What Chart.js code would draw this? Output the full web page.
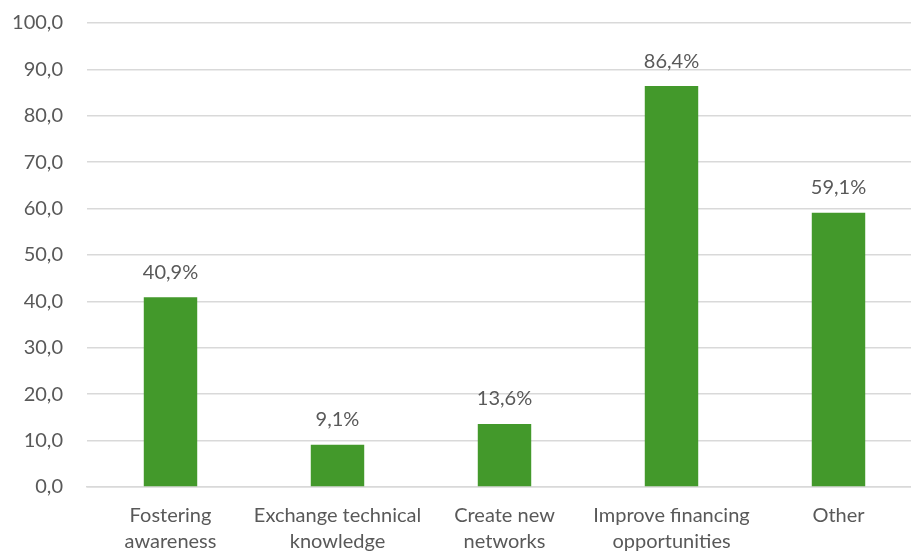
<!DOCTYPE html>
<html>
<head>
<meta charset="utf-8">
<script src="https://cdn.jsdelivr.net/npm/chart.js@4/dist/chart.umd.min.js"></script>
<style>
    html, body { margin: 0; padding: 0; background: #fff; overflow: hidden; }
    #wrap { width: 922px; height: 551px; }
</style>
</head>
<body>
<div id="wrap"><canvas id="benefitsChart"></canvas></div>
<script>
const categories = [
    ['Fostering', 'awareness'],
    ['Exchange technical', 'knowledge'],
    ['Create new', 'networks'],
    ['Improve financing', 'opportunities'],
    'Other'
];
const shares = [40.9, 9.1, 13.6, 86.4, 59.1];
const yTicks = [0, 10, 20, 30, 40, 50, 60, 70, 80, 90, 100];

const TEXT = '#595959';
const FONT = 'Lato, "Open Sans", sans-serif';

const fmt = (v, d) => v.toFixed(d).replace('.', ',');

// value labels above each bar
const barLabels = {
    id: 'barLabels',
    afterDatasetsDraw(chart) {
        const ctx = chart.ctx;
        const meta = chart.getDatasetMeta(0);
        ctx.save();
        ctx.font = '20px ' + FONT;
        ctx.fillStyle = TEXT;
        ctx.textAlign = 'center';
        ctx.textBaseline = 'middle';
        meta.data.forEach((bar, i) => {
            ctx.fillText(fmt(shares[i], 1) + '%', bar.x, bar.y - 25);
        });
        ctx.restore();
    }
};

const ctx = document.getElementById('benefitsChart').getContext('2d');
new Chart(ctx, {
    type: 'bar',
    data: {
        labels: categories,
        datasets: [{
            data: shares,
            backgroundColor: '#43992b',
            borderWidth: 0,
            barPercentage: 0.32,
            categoryPercentage: 1
        }]
    },
    options: {
        responsive: true,
        maintainAspectRatio: false,
        animation: false,
        layout: { padding: { top: 23, right: 0, left: 0, bottom: 0 } },
        plugins: {
            legend: { display: false },
            tooltip: { enabled: false }
        },
        scales: {
            x: {
                grid: { display: false },
                border: { color: '#d9d9d9', width: 1.5 },
                ticks: {
                    color: TEXT,
                    font: { family: FONT, size: 20, lineHeight: 1.3 },
                    padding: 8,
                    maxRotation: 0,
                    autoSkip: false
                },
                afterFit: axis => { axis.height = 64; }
            },
            y: {
                min: 0,
                max: 100,
                afterBuildTicks: axis => { axis.ticks = yTicks.map(v => ({value: v})); },
                grid: { color: '#d9d9d9', lineWidth: 1.5, drawTicks: false },
                border: { display: false },
                ticks: {
                    color: TEXT,
                    font: { family: FONT, size: 20 },
                    padding: 24,
                    callback: v => fmt(v, 1)
                },
                afterFit: axis => {
                    axis.width = 87;
                    axis.paddingTop = 0;
                    axis.paddingBottom = 0;
                }
            }
        }
    },
    plugins: [barLabels]
});
</script>
</body>
</html>
